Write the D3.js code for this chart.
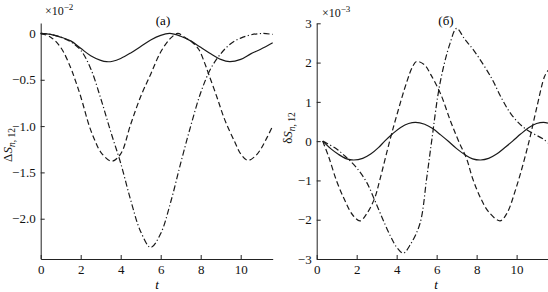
<!DOCTYPE html>
<html>
<head>
<meta charset="utf-8">
<script src="https://cdn.jsdelivr.net/npm/d3@7"></script>
<style>
  body { margin: 0; background: #fff; }
  svg text { font-family: "Liberation Serif", "Times New Roman", serif; }
  .tick text { font-size: 13px; fill: #111; }
  .domain, .tick line { stroke: #222; stroke-width: 1; }
</style>
</head>
<body>
<svg id="chart" width="548" height="292"></svg>
<script>
// (a) values in units of 1e-2, pairs [t, value]
var leftSolid = [[0,0],[0.5,-0.01],[1,-0.04],[1.5,-0.08],[2,-0.16],[2.5,-0.24],[3,-0.29],[3.3,-0.305],
  [3.6,-0.3],[4,-0.27],[4.5,-0.21],[5,-0.14],[5.5,-0.07],[6,-0.02],[6.45,0],[7,-0.03],[7.5,-0.08],
  [8,-0.15],[8.5,-0.22],[9,-0.28],[9.45,-0.305],[10,-0.28],[10.5,-0.22],[11,-0.17],[11.6,-0.1]];
var leftDash = [[0,0],[0.5,-0.04],[1,-0.15],[1.5,-0.37],[1.72,-0.5],[2,-0.68],[2.43,-1],[2.7,-1.15],
  [3,-1.28],[3.55,-1.38],[4,-1.3],[4.5,-0.98],[5,-0.68],[5.5,-0.44],[6,-0.2],[6.5,-0.05],[6.85,0],
  [7.2,-0.04],[7.6,-0.1],[7.9,-0.17],[8.2,-0.32],[8.4,-0.44],[8.8,-0.68],[9.2,-0.93],[9.7,-1.17],
  [10,-1.3],[10.35,-1.37],[10.7,-1.33],[11,-1.25],[11.3,-1.13],[11.6,-1]];
var leftDashDot = [[0,0],[0.5,-0.01],[1,-0.04],[1.5,-0.09],[2,-0.18],[2.5,-0.38],[3,-0.7],[3.5,-1.06],
  [4,-1.4],[4.5,-1.8],[5,-2.14],[5.5,-2.31],[6,-2.16],[6.5,-1.82],[7,-1.4],[7.5,-1],[8,-0.64],
  [8.5,-0.38],[9,-0.22],[9.5,-0.11],[10,-0.05],[10.5,-0.015],[11.1,0],[11.6,-0.01]];

// (б) values in units of 1e-3
var rightSolid = [[0.3,0],[0.7,-0.19],[1.1,-0.34],[1.5,-0.45],[1.85,-0.48],[2.3,-0.44],[2.7,-0.33],
  [3.1,-0.16],[3.4,0],[3.8,0.19],[4.2,0.35],[4.6,0.45],[4.95,0.48],[5.4,0.43],[5.8,0.32],[6.2,0.16],
  [6.6,-0.01],[7,-0.19],[7.4,-0.34],[7.8,-0.45],[8.2,-0.48],[8.6,-0.44],[9,-0.33],[9.4,-0.17],
  [9.8,0],[10.2,0.18],[10.6,0.34],[11,0.45],[11.35,0.48],[11.57,0.46]];
var rightDash = [[0.3,0],[0.6,-0.4],[1,-1.02],[1.4,-1.5],[1.8,-1.88],[2.17,-2.03],[2.5,-1.85],
  [2.9,-1.45],[3.15,-1],[3.65,0],[4,0.65],[4.5,1.5],[4.8,1.9],[5,2.03],[5.4,1.94],[5.7,1.7],
  [6.2,1.2],[6.7,0.5],[7.1,0],[7.5,-0.45],[7.8,-0.95],[8.2,-1.45],[8.6,-1.8],[9.17,-2.03],
  [9.5,-1.85],[10,-1.15],[10.6,-0.05],[11,0.84],[11.4,1.65],[11.57,1.8]];
var rightDashDot = [[0.3,0],[1,-0.2],[1.5,-0.42],[2,-0.68],[2.5,-1.05],[2.9,-1.5],[3.3,-1.98],
  [3.7,-2.43],[4,-2.7],[4.33,-2.85],[4.7,-2.62],[5.17,-2.09],[5.5,-0.95],[5.75,0],[6.17,1.48],
  [6.67,2.49],[7,2.87],[7.4,2.6],[7.9,2.28],[8.75,1.6],[9.25,1.09],[9.75,0.67],[10.4,0.33],
  [11.4,0.03],[11.57,-0.05]];

var leftTicksX = [0, 2, 4, 6, 8, 10];
var leftTicksY = [0, -0.5, -1.0, -1.5, -2.0];
var rightTicksX = [0, 2, 4, 6, 8, 10];
var rightTicksY = [-3, -2, -1, 0, 1, 2, 3];

var svg = d3.select("#chart");

function minus(s) { return s.replace("-", "\u2212"); }

function panel(opt) {
  var x = d3.scaleLinear().domain(opt.xDomain).range(opt.xRange);
  var y = d3.scaleLinear().domain(opt.yDomain).range(opt.yRange);

  var g = svg.append("g");

  g.append("g")
    .attr("transform", "translate(0," + opt.yRange[0] + ")")
    .call(d3.axisBottom(x).tickValues(opt.ticksX).tickSizeInner(-4).tickSizeOuter(0).tickPadding(6)
      .tickFormat(d3.format("d")));

  g.append("g")
    .attr("transform", "translate(" + opt.xRange[0] + ",0)")
    .call(d3.axisLeft(y).tickValues(opt.ticksY).tickSizeInner(-4).tickSizeOuter(0).tickPadding(5)
      .tickFormat(function(d){ return d === 0 ? "0" : minus(opt.fmt(d)); }));

  g.selectAll(".domain").attr("fill", "none");

  var line = d3.line()
    .x(function(d){ return x(d[0]); })
    .y(function(d){ return y(d[1]); })
    .curve(d3.curveCatmullRom.alpha(0.5));

  var styles = [
    { data: opt.solid, dash: null },
    { data: opt.dash, dash: "5.5,3" },
    { data: opt.dashDot, dash: "6,2.5,1.2,2.5" }
  ];
  styles.forEach(function(s){
    g.append("path")
      .datum(s.data)
      .attr("d", line)
      .attr("fill", "none")
      .attr("stroke", "#1a1a1a")
      .attr("stroke-width", 1.2)
      .attr("stroke-dasharray", s.dash);
  });

  return g;
}

var gA = panel({
  xDomain: [0, 11.6], xRange: [40.7, 272.7],
  yDomain: [-2.435, 0.113], yRange: [259, 23],
  ticksX: leftTicksX, ticksY: leftTicksY,
  fmt: d3.format(".1f"),
  solid: leftSolid, dash: leftDash, dashDot: leftDashDot
});

var gB = panel({
  xDomain: [0, 11.57], xRange: [316.7, 548],
  yDomain: [-3, 3], yRange: [259, 23.3],
  ticksX: rightTicksX, ticksY: rightTicksY,
  fmt: d3.format("d"),
  solid: rightSolid, dash: rightDash, dashDot: rightDashDot
});

// text labels
function multiplier(xp, yp, exp) {
  var t = svg.append("text").attr("x", xp).attr("y", yp).attr("font-size", 12).attr("fill", "#111");
  t.append("tspan").text("\u00d710");
  t.append("tspan").attr("dy", -5).attr("font-size", 9).text("\u2212" + exp);
}
multiplier(45, 15, "2");
multiplier(322, 17, "3");

svg.append("text").attr("x", 163).attr("y", 25).attr("text-anchor", "middle")
  .attr("font-size", 13).text("(a)");
svg.append("text").attr("x", 446).attr("y", 25).attr("text-anchor", "middle")
  .attr("font-size", 13).text("(\u0431)");

[[157, 289], [436, 289]].forEach(function(p){
  svg.append("text").attr("x", p[0]).attr("y", p[1]).attr("text-anchor", "middle")
    .attr("font-size", 13).attr("font-style", "italic").text("t");
});

function yLabel(xp, yp, sym) {
  var t = svg.append("text")
    .attr("transform", "translate(" + xp + "," + yp + ") rotate(-90)")
    .attr("text-anchor", "middle").attr("font-size", 13).attr("fill", "#111");
  t.append("tspan").text(sym);
  t.append("tspan").attr("font-style", "italic").text("S");
  t.append("tspan").attr("dy", 2.5).attr("font-size", 9.5).attr("font-style", "italic").text("n");
  t.append("tspan").attr("font-size", 9.5).text(", 12");
}
yLabel(12, 145, "\u0394");
yLabel(292, 128, "\u03b4");
</script>
</body>
</html>
